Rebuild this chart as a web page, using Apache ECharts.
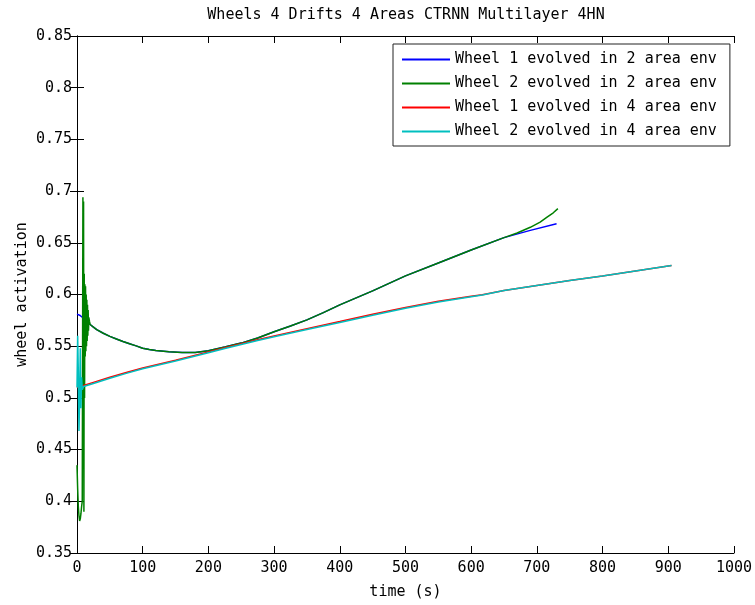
<!DOCTYPE html>
<html>
<head>
<meta charset="utf-8">
<script src="https://cdn.jsdelivr.net/npm/echarts@6/dist/echarts.min.js"></script>
<style>
html,body{margin:0;padding:0;background:#fff;}
#chart{width:755px;height:605px;}
</style>
</head>
<body>
<div id="chart"></div>
<script>
const chartTitle = 'Wheels 4 Drifts 4 Areas CTRNN Multilayer 4HN';
const xAxisTitle = 'time (s)';
const yAxisTitle = 'wheel activation';
const seriesNames = [
  'Wheel 1 evolved in 2 area env',
  'Wheel 2 evolved in 2 area env',
  'Wheel 1 evolved in 4 area env',
  'Wheel 2 evolved in 4 area env'
];
const seriesColors = ['#0000ff', '#008000', '#ff0000', '#00bfbf'];

const blueT = [0, 4, 8, 12, 16, 20, 25, 30, 40, 50, 60, 70, 80, 90, 100, 110, 120, 140, 160, 180, 200, 225, 250, 275, 300, 325, 350, 375, 400, 450, 500, 550, 600, 650, 690, 730];
const blueV = [0.581, 0.580, 0.578, 0.576, 0.573, 0.571, 0.5685, 0.566, 0.5625, 0.5595, 0.557, 0.5545, 0.5523, 0.5503, 0.548, 0.5468, 0.5458, 0.5446, 0.5439, 0.5440, 0.5455, 0.5492, 0.5530, 0.5580, 0.5640, 0.5695, 0.5755, 0.5825, 0.5900, 0.6035, 0.6180, 0.6305, 0.6430, 0.6550, 0.6620, 0.6685];

const greenT = [0, 1, 2, 3, 4, 5, 6, 7, 8, 8.5, 9, 9.5, 10, 10.5, 11, 11.5, 12, 12.5, 13, 13.5, 14, 14.5, 15, 15.5, 16, 16.5, 17, 17.5, 18, 19, 20, 25, 30, 40, 50, 60, 70, 80, 90, 100, 110, 120, 140, 160, 180, 200, 225, 250, 275, 300, 325, 350, 375, 400, 450, 500, 550, 600, 650, 670, 690, 705, 715, 725, 732];
const greenV = [0.435, 0.412, 0.395, 0.386, 0.381, 0.383, 0.388, 0.395, 0.400, 0.550, 0.694, 0.450, 0.690, 0.390, 0.620, 0.500, 0.610, 0.540, 0.608, 0.545, 0.600, 0.550, 0.595, 0.555, 0.590, 0.560, 0.585, 0.565, 0.578, 0.574, 0.571, 0.5685, 0.566, 0.5625, 0.5595, 0.557, 0.5545, 0.5523, 0.5503, 0.548, 0.5468, 0.5458, 0.5446, 0.5439, 0.5440, 0.5455, 0.5492, 0.5530, 0.5580, 0.5640, 0.5695, 0.5755, 0.5825, 0.5900, 0.6035, 0.6180, 0.6305, 0.6430, 0.6550, 0.6595, 0.6650, 0.6700, 0.6745, 0.6790, 0.6830];

const redT = [0, 5, 10, 25, 50, 75, 100, 150, 200, 225, 250, 275, 300, 350, 400, 450, 500, 550, 600, 617, 650, 700, 750, 800, 850, 905];
const redV = [0.510, 0.511, 0.512, 0.515, 0.520, 0.5245, 0.529, 0.5365, 0.5445, 0.5485, 0.5525, 0.5563, 0.5600, 0.5670, 0.5738, 0.5808, 0.5875, 0.5935, 0.5983, 0.5997, 0.6038, 0.6088, 0.6136, 0.6180, 0.6228, 0.6280];

const cyanT = [0, 1, 2, 3, 4, 5, 6, 7, 8, 10, 25, 50, 75, 100, 150, 200, 225, 250, 275, 300, 350, 400, 450, 500, 550, 600, 617, 650, 700, 750, 800, 850, 905];
const cyanV = [0.510, 0.560, 0.525, 0.468, 0.500, 0.548, 0.490, 0.520, 0.508, 0.511, 0.514, 0.519, 0.5237, 0.5282, 0.5357, 0.5437, 0.5477, 0.5517, 0.5555, 0.5592, 0.5662, 0.5730, 0.5800, 0.5868, 0.5928, 0.5978, 0.5995, 0.6038, 0.6088, 0.6136, 0.6180, 0.6228, 0.6280];

const xTicks = {min: 0, max: 1000, interval: 100};
const yTicks = {min: 0.35, max: 0.85, interval: 0.05};

function pairs(t, v) { return t.map((x, i) => [x, v[i]]); }
const seriesData = [pairs(blueT, blueV), pairs(greenT, greenV), pairs(redT, redV), pairs(cyanT, cyanV)];

const FONT = 'DejaVu Sans Mono';
const chart = echarts.init(document.getElementById('chart'), null, {renderer: 'canvas'});

const axisLineStyle = {show: true, lineStyle: {color: '#000', width: 1}};
const tickStyle = {show: true, inside: true, length: 7, lineStyle: {color: '#000', width: 1}};

chart.setOption({
  animation: false,
  backgroundColor: '#fff',
  title: {
    text: chartTitle,
    left: 406,
    textAlign: 'center',
    top: 8,
    padding: 0,
    textStyle: {fontFamily: FONT, fontSize: 15, fontWeight: 'normal', color: '#000'}
  },
  grid: {left: 77, right: 20, top: 36, bottom: 52, containLabel: false},
  legend: {
    data: seriesNames,
    orient: 'vertical',
    left: 393,
    top: 44,
    padding: [8, 13, 7, 9],
    itemGap: 9,
    itemWidth: 48,
    itemHeight: 2,
    icon: 'rect',
    backgroundColor: '#fff',
    borderColor: '#222',
    borderWidth: 1,
    borderRadius: 0,
    textStyle: {fontFamily: FONT, fontSize: 15, color: '#000', lineHeight: 15}
  },
  xAxis: [
    {
      type: 'value', position: 'bottom',
      min: xTicks.min, max: xTicks.max, interval: xTicks.interval,
      name: xAxisTitle, nameLocation: 'middle', nameGap: 32,
      nameMoveOverlap: false,
      nameTextStyle: {fontFamily: FONT, fontSize: 15, color: '#000'},
      axisLine: axisLineStyle, axisTick: tickStyle, splitLine: {show: false},
      axisLabel: {margin: 8, fontFamily: FONT, fontSize: 15, color: '#000',
        formatter: v => String(v)}
    },
    {
      type: 'value', position: 'top',
      min: xTicks.min, max: xTicks.max, interval: xTicks.interval,
      axisLine: axisLineStyle, axisTick: tickStyle, splitLine: {show: false},
      axisLabel: {show: false}
    }
  ],
  yAxis: [
    {
      type: 'value', position: 'left',
      min: yTicks.min, max: yTicks.max, interval: yTicks.interval,
      name: yAxisTitle, nameLocation: 'middle', nameGap: 47,
      nameMoveOverlap: false,
      nameTextStyle: {fontFamily: FONT, fontSize: 15, color: '#000'},
      axisLine: axisLineStyle, axisTick: tickStyle, splitLine: {show: false},
      axisLabel: {margin: 5, fontFamily: FONT, fontSize: 15, color: '#000',
        formatter: v => String(+v.toFixed(2))}
    },
    {
      type: 'value', position: 'right',
      min: yTicks.min, max: yTicks.max, interval: yTicks.interval,
      axisLine: axisLineStyle, axisTick: tickStyle, splitLine: {show: false},
      axisLabel: {show: false}
    }
  ],
  series: seriesNames.map((name, i) => ({
    name: name,
    type: 'line',
    xAxisIndex: 0,
    yAxisIndex: 0,
    data: seriesData[i],
    showSymbol: false,
    symbol: 'none',
    color: seriesColors[i],
    lineStyle: {color: seriesColors[i], width: 1.5},
    z: 2 + i
  }))
});
</script>
</body>
</html>
